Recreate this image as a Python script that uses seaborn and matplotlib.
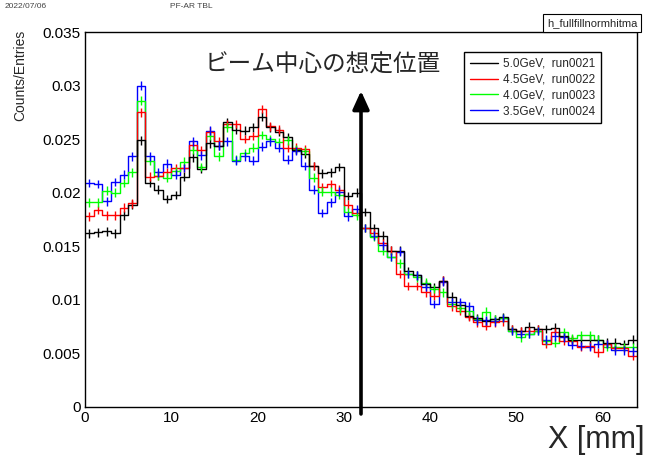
import numpy as np
import pandas as pd
import matplotlib
matplotlib.use("Agg")
import matplotlib.pyplot as plt
from matplotlib.lines import Line2D
from matplotlib.ticker import MultipleLocator
import seaborn as sns

# ---------------- data ----------------
bin_centers = np.arange(64) + 0.5
runs = ["5.0GeV,  run0021", "4.5GeV,  run0022", "4.0GeV,  run0023", "3.5GeV,  run0024"]

run0021 = [0.0162, 0.0163, 0.0164, 0.0162, 0.0179, 0.0189, 0.0249, 0.0209, 0.0203, 0.0194,
           0.0198, 0.0215, 0.0233, 0.0222, 0.0246, 0.0244, 0.0266, 0.0259, 0.0258, 0.0261,
           0.0271, 0.0261, 0.0257, 0.0252, 0.0240, 0.0236, 0.0225, 0.0218, 0.0219, 0.0224,
           0.0197, 0.0200, 0.0182, 0.0167, 0.0160, 0.0146, 0.0146, 0.0127, 0.0123, 0.0115,
           0.0112, 0.0118, 0.0103, 0.0095, 0.0085, 0.0083, 0.0080, 0.0082, 0.0084, 0.0073,
           0.0071, 0.0075, 0.0073, 0.0073, 0.0074, 0.0066, 0.0063, 0.0063, 0.0063, 0.0063,
           0.0060, 0.0060, 0.0059, 0.0063]
run0022 = [0.0178, 0.0184, 0.0179, 0.0179, 0.0186, 0.0190, 0.0275, 0.0215, 0.0216, 0.0219,
           0.0223, 0.0223, 0.0245, 0.0240, 0.0257, 0.0248, 0.0264, 0.0264, 0.0250, 0.0253,
           0.0278, 0.0262, 0.0259, 0.0242, 0.0242, 0.0241, 0.0225, 0.0205, 0.0208, 0.0203,
           0.0189, 0.0181, 0.0167, 0.0162, 0.0153, 0.0146, 0.0124, 0.0113, 0.0113, 0.0107,
           0.0104, 0.0118, 0.0094, 0.0090, 0.0084, 0.0079, 0.0076, 0.0079, 0.0080, 0.0073,
           0.0071, 0.0071, 0.0073, 0.0059, 0.0070, 0.0062, 0.0062, 0.0056, 0.0057, 0.0051,
           0.0059, 0.0055, 0.0055, 0.0048]
run0023 = [0.0191, 0.0191, 0.0202, 0.0200, 0.0209, 0.0219, 0.0286, 0.0230, 0.0216, 0.0214,
           0.0220, 0.0229, 0.0240, 0.0224, 0.0253, 0.0234, 0.0261, 0.0231, 0.0237, 0.0242,
           0.0254, 0.0250, 0.0247, 0.0249, 0.0241, 0.0239, 0.0214, 0.0201, 0.0201, 0.0198,
           0.0182, 0.0179, 0.0167, 0.0159, 0.0146, 0.0140, 0.0134, 0.0124, 0.0121, 0.0116,
           0.0110, 0.0107, 0.0096, 0.0092, 0.0090, 0.0082, 0.0089, 0.0082, 0.0083, 0.0071,
           0.0065, 0.0068, 0.0071, 0.0062, 0.0060, 0.0070, 0.0064, 0.0067, 0.0067, 0.0063,
           0.0056, 0.0056, 0.0056, 0.0056]
run0024 = [0.0209, 0.0208, 0.0192, 0.0210, 0.0217, 0.0234, 0.0300, 0.0234, 0.0219, 0.0227,
           0.0217, 0.0223, 0.0248, 0.0235, 0.0258, 0.0244, 0.0248, 0.0230, 0.0234, 0.0230,
           0.0243, 0.0248, 0.0242, 0.0231, 0.0239, 0.0225, 0.0203, 0.0181, 0.0191, 0.0201,
           0.0178, 0.0185, 0.0167, 0.0160, 0.0151, 0.0140, 0.0145, 0.0124, 0.0123, 0.0112,
           0.0096, 0.0117, 0.0098, 0.0098, 0.0094, 0.0081, 0.0081, 0.0080, 0.0083, 0.0071,
           0.0068, 0.0068, 0.0071, 0.0063, 0.0066, 0.0065, 0.0058, 0.0057, 0.0056, 0.0059,
           0.0059, 0.0053, 0.0053, 0.0052]
bin_error = 0.0004

yticks = [0, 0.005, 0.01, 0.015, 0.02, 0.025, 0.03, 0.035]
ytick_labels = ["0", "0.005", "0.01", "0.015", "0.02", "0.025", "0.03", "0.035"]
xticks = [0, 10, 20, 30, 40, 50, 60]
xtick_labels = ["0", "10", "20", "30", "40", "50", "60"]
beam_center = 32

colors = ["#000000", "#ff0000", "#00ff00", "#0000ff"]

# ---------------- figure ----------------
sns.set_style("white")
plt.rcParams["font.family"] = ["Liberation Sans", "DejaVu Sans"]

fig = plt.figure(figsize=(6.49, 4.62), dpi=100)
ax = fig.add_axes([85 / 649, 1 - 407 / 462, (637 - 85) / 649, (407 - 32) / 462])

series = [run0021, run0022, run0023, run0024]
df = pd.DataFrame({
    "x": np.tile(bin_centers, len(runs)),
    "w": np.concatenate(series),
    "run": np.repeat(runs, len(bin_centers)),
})
sns.histplot(data=df, x="x", weights="w", hue="run", hue_order=runs,
             palette=colors, bins=64, binrange=(0, 64), element="step",
             fill=False, linewidth=1.0, legend=False, ax=ax)

for vals, c in zip(series, colors):
    ax.errorbar(bin_centers, vals, yerr=bin_error, fmt="none", ecolor=c,
                elinewidth=1.0, capsize=0)

ax.set_xlim(0, 64)
ax.set_ylim(0, 0.035)
ax.set_xticks(xticks)
ax.set_xticklabels(xtick_labels)
ax.set_yticks(yticks)
ax.set_yticklabels(ytick_labels)
ax.xaxis.set_minor_locator(MultipleLocator(2))
ax.yaxis.set_minor_locator(MultipleLocator(0.001))
ax.tick_params(which="major", direction="in", length=11, width=1, labelsize=11,
               color="black", labelcolor="black", pad=3, top=False, right=False)
ax.tick_params(which="minor", direction="in", length=6, width=1, color="black",
               top=False, right=False)
for s in ax.spines.values():
    s.set_color("black")
    s.set_linewidth(1.0)
ax.set_xlabel("")
ax.set_ylabel("")

# arrow marking the expected beam center
ax.annotate("", xy=(beam_center, 0.0295), xytext=(beam_center, -0.00065),
            xycoords="data", annotation_clip=False,
            arrowprops=dict(arrowstyle="-|>,head_length=0.55,head_width=0.25",
                            lw=2.6, color="black", shrinkA=0, shrinkB=0,
                            mutation_scale=20))

# legend
handles = [Line2D([0], [0], color=c, lw=1.0) for c in colors]
leg = ax.legend(handles, runs, loc="upper left", bbox_to_anchor=(0.686, 0.947),
                fontsize=8.5, frameon=True, fancybox=False, edgecolor="black",
                framealpha=1, handlelength=2.4, handletextpad=0.4,
                labelspacing=0.33, borderpad=0.5, borderaxespad=0)
leg.get_frame().set_linewidth(1.0)

# texts
fig.text(205 / 649, 1 - 65 / 462, "ビーム中心の想定位置", fontsize=17,
         family=["Noto Sans CJK JP", "DejaVu Sans"], va="center", ha="left")
fig.text(20 / 649, 1 - 30 / 462, "Counts/Entries", rotation=90, fontsize=10,
         ha="center", va="top")
fig.text(645 / 649, 1 - 440 / 462, "X [mm]", fontsize=22, ha="right", va="center")
fig.text(547 / 649, 1 - 23 / 462, "h_fullfillnormhitma", fontsize=8, ha="left",
         va="center",
         bbox=dict(boxstyle="square,pad=0.35", facecolor="white", edgecolor="black",
                   linewidth=0.8))
fig.text(5 / 649, 1 - 6 / 462, "2022/07/06", fontsize=6, ha="left", va="center",
         color="#444444")
fig.text(170 / 649, 1 - 6 / 462, "PF-AR TBL", fontsize=6, ha="left", va="center",
         color="#444444")

fig.savefig("out.png", dpi=100, facecolor="white")
